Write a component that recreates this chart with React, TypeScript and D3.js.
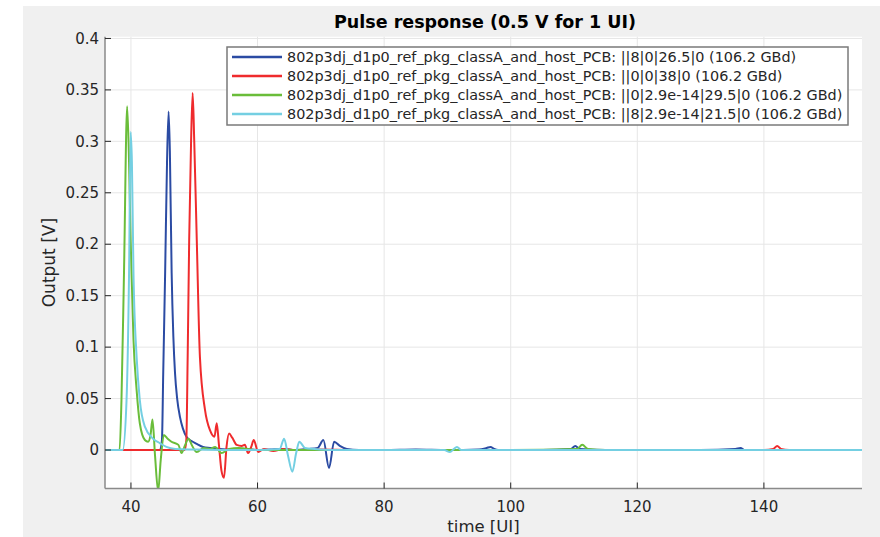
import React from "react";
import * as d3 from "d3";

const W = 880;
const H = 537;

const title = "Pulse response (0.5 V for 1 UI)";
const xLabel = "time [UI]";
const yLabel = "Output [V]";
const xTicks = [40, 60, 80, 100, 120, 140];
const yTicks = [0, 0.05, 0.1, 0.15, 0.2, 0.25, 0.3, 0.35, 0.4];
const yTickLabels = ["0", "0.05", "0.1", "0.15", "0.2", "0.25", "0.3", "0.35", "0.4"];

const seriesNames = [
  "802p3dj_d1p0_ref_pkg_classA_and_host_PCB: ||8|0|26.5|0 (106.2 GBd)",
  "802p3dj_d1p0_ref_pkg_classA_and_host_PCB: ||0|0|38|0 (106.2 GBd)",
  "802p3dj_d1p0_ref_pkg_classA_and_host_PCB: ||0|2.9e-14|29.5|0 (106.2 GBd)",
  "802p3dj_d1p0_ref_pkg_classA_and_host_PCB: ||8|2.9e-14|21.5|0 (106.2 GBd)",
];
const seriesColors = ["#2b4ba3", "#ef2b2d", "#6abd3a", "#74cfe2"];

const blueX = [36, 44.6, 44.9, 45.1, 45.4, 45.7, 45.95, 46.15, 46.43, 46.7, 46.96, 47.3, 47.75, 48.2, 48.8, 49.5, 50.4, 51.4, 52.5, 54, 56, 58, 60, 62, 64, 66, 68, 69.5, 70.4, 71.3, 72.1, 73, 74.1, 76, 80, 85, 90, 95, 96.2, 96.8, 97.4, 98, 105, 109.5, 110.2, 110.9, 115, 130, 135.5, 136.3, 137, 145, 155.5];
const blueY = [0, 0, 0.01, 0.075, 0.172, 0.28, 0.329, 0.29, 0.172, 0.11, 0.075, 0.05, 0.032, 0.021, 0.0126, 0.009, 0.006, 0.003, 0.002, 0.001, 0.0005, 0.001, 0, 0.0005, 0.001, 0, 0.001, 0.002, 0.0097, -0.0175, 0.008, 0.004, 0.001, 0, 0, 0.0005, 0, 0.0005, 0.002, 0.003, 0.001, 0, 0, 0.001, 0.004, 0.001, 0, 0, 0.001, 0.002, 0, 0, 0];

const redX = [36, 48.5, 48.75, 48.96, 49.2, 49.5, 49.75, 50.0, 50.4, 50.9, 51.7, 52.5, 53.2, 53.55, 53.9, 54.3, 54.7, 55.1, 55.5, 56.0, 56.7, 57.5, 58.0, 58.5, 59.0, 59.4, 60.1, 61, 62.5, 64, 66, 70, 75, 80, 90, 100, 110, 120, 130, 140, 141.5, 142.1, 142.7, 144, 150, 155.5];
const redY = [0, 0, 0.01, 0.09, 0.204, 0.3, 0.347, 0.3, 0.204, 0.09, 0.039, 0.019, 0.013, 0.026, 0.005, -0.02, -0.027, 0.003, 0.016, 0.012, 0.005, 0.004, 0.005, -0.003, 0.003, 0.0097, -0.002, 0.001, -0.001, 0.001, 0, 0.0005, 0, 0, 0, 0, 0, 0, 0, 0, 0.001, 0.004, 0.001, 0, 0, 0];

const greenX = [36, 38.2, 38.5, 38.9, 39.4, 39.7, 39.95, 40.4, 40.9, 41.4, 42.2, 42.7, 43.1, 43.4, 43.8, 44.3, 44.7, 45.2, 45.8, 46.4, 47.5, 48.0, 48.5, 49.1, 49.6, 50.4, 51.5, 52.5, 53.3, 54.3, 55.5, 57, 60, 65, 70, 80, 90, 100, 110.5, 111.3, 112.2, 115, 130, 155.5];
const greenY = [0, 0, 0.048, 0.172, 0.334, 0.28, 0.204, 0.107, 0.058, 0.026, 0.0097, 0.008, 0.015, 0.0297, -0.005, -0.04, -0.01, 0.0146, 0.011, 0.008, 0.005, -0.003, 0.004, 0.011, 0.005, -0.002, 0.002, 0.001, 0.003, -0.003, 0.001, 0.002, 0, 0, 0, 0, 0, 0, 0.001, 0.005, 0.001, 0, 0, 0];

const cyanX = [36, 38.7, 39.3, 39.7, 39.95, 40.15, 40.4, 40.9, 41.4, 42.2, 43.5, 44.6, 45.6, 47, 50, 55, 60, 63.5, 64.2, 64.8, 65.5, 66.1, 66.6, 67.5, 69, 72, 80, 89.5, 90.4, 91.0, 91.5, 92.2, 95, 110, 155.5];
const cyanY = [0, 0, 0.048, 0.172, 0.309, 0.28, 0.172, 0.09, 0.0485, 0.0227, 0.011, 0.0065, 0.003, 0.001, 0.0005, 0, 0, 0.001, 0.011, -0.005, -0.021, -0.003, 0.008, 0.002, 0.001, 0, 0, 0, -0.002, 0.001, 0.003, 0, 0, 0, 0];

const seriesX = [blueX, redX, greenX, cyanX];
const seriesY = [blueY, redY, greenY, cyanY];

export default function App() {
  const left = 105, right = 862, top = 36.7, bottom = 488.5;
  const x = d3.scaleLinear().domain([35.9, 155.5]).range([left, right]);
  const y = d3.scaleLinear().domain([-0.0374, 0.4017]).range([bottom, top]);
  const line = d3
    .line<[number, number]>()
    .x((d) => x(d[0]))
    .y((d) => y(d[1]))
    .curve(d3.curveMonotoneX);

  const font = "'DejaVu Sans', sans-serif";
  const axisColor = "#8a8a8a";
  const textColor = "#262626";

  const lgX = 227, lgY = 47, lgW = 621, lgH = 78, rowH = 19;

  return (
    <svg width={W} height={H} style={{ position: "absolute", left: 0, top: 0 }} fontFamily={font}>
      <rect x={23} y={6} width={W - 23} height={H - 6} fill="#f0f0f0" />
      <rect x={left} y={top} width={right - left} height={bottom - top} fill="#ffffff" />
      <defs>
        <clipPath id="plotclip">
          <rect x={left} y={top} width={right - left} height={bottom - top} />
        </clipPath>
      </defs>
      {xTicks.map((t) => (
        <line key={"gx" + t} x1={x(t)} x2={x(t)} y1={top} y2={bottom} stroke="#e6e6e6" strokeWidth={1} />
      ))}
      {yTicks.map((t) => (
        <line key={"gy" + t} x1={left} x2={right} y1={y(t)} y2={y(t)} stroke="#e6e6e6" strokeWidth={1} />
      ))}
      <g clipPath="url(#plotclip)">
        {seriesX.map((xs, i) => (
          <path
            key={"s" + i}
            d={line(xs.map((v, j) => [v, seriesY[i][j]] as [number, number])) || ""}
            fill="none"
            stroke={seriesColors[i]}
            strokeWidth={2}
            strokeLinejoin="round"
          />
        ))}
      </g>
      <line x1={left} x2={left} y1={top} y2={bottom} stroke={axisColor} strokeWidth={1.5} />
      <line x1={left} x2={right} y1={bottom} y2={bottom} stroke={axisColor} strokeWidth={1.5} />
      {xTicks.map((t) => (
        <g key={"xt" + t}>
          <line x1={x(t)} x2={x(t)} y1={bottom} y2={bottom - 6} stroke={textColor} strokeWidth={1} />
          <text x={x(t)} y={bottom + 23} fontSize={15} textAnchor="middle" fill={textColor}>
            {t}
          </text>
        </g>
      ))}
      {yTicks.map((t, i) => (
        <g key={"yt" + t}>
          <line x1={left} x2={left + 6} y1={y(t)} y2={y(t)} stroke={textColor} strokeWidth={1} />
          <text x={left - 6} y={y(t)} dy="0.35em" fontSize={15} textAnchor="end" fill={textColor}>
            {yTickLabels[i]}
          </text>
        </g>
      ))}
      <text x={(left + right) / 2} y={532} fontSize={16.5} textAnchor="middle" fill={textColor}>
        {xLabel}
      </text>
      <text
        transform={`translate(55, ${(top + bottom) / 2}) rotate(-90)`}
        fontSize={17}
        textAnchor="middle"
        fill={textColor}
      >
        {yLabel}
      </text>
      <text x={485} y={28} fontSize={17.5} fontWeight="bold" textAnchor="middle" fill="#000">
        {title}
      </text>
      <rect x={lgX} y={lgY} width={lgW} height={lgH} fill="#ffffff" stroke="#7a7a7a" strokeWidth={1.5} />
      {seriesNames.map((name, i) => (
        <g key={"lg" + i}>
          <line
            x1={lgX + 5}
            x2={lgX + 55}
            y1={lgY + 10 + i * rowH}
            y2={lgY + 10 + i * rowH}
            stroke={seriesColors[i]}
            strokeWidth={2.5}
          />
          <text x={lgX + 60} y={lgY + 10 + i * rowH} dy="0.35em" fontSize={14.4} fill={textColor}>
            {name}
          </text>
        </g>
      ))}
    </svg>
  );
}
